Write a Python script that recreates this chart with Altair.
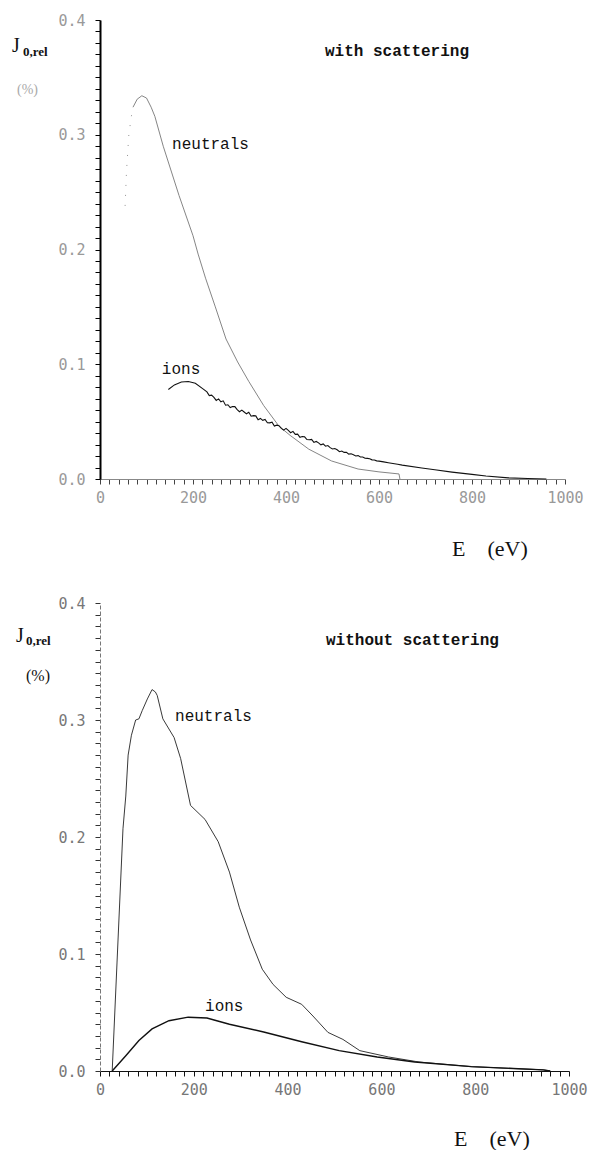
import altair as alt
import pandas as pd

# ---------------- axis ticks ----------------
x_label_values = [0, 200, 400, 600, 800, 1000]
x_minor_values = list(range(0, 1001, 20))
y_label_values = [0.0, 0.1, 0.2, 0.3, 0.4]
y_minor_values = [round(i * 0.01, 2) for i in range(41)]

# ---------------- "with scattering" ----------------
with_neutral_rise_E = [54, 57, 62, 67, 71]
with_neutral_rise_J = [0.238, 0.268, 0.300, 0.315, 0.324]

with_neutral_E = [71, 80, 90, 100, 110, 118, 136, 170, 200, 211, 227, 248, 271,
                  296, 320, 352, 385, 409, 449, 498, 555, 600, 643, 645]
with_neutral_J = [0.324, 0.331, 0.334, 0.332, 0.324, 0.316, 0.290, 0.247, 0.212,
                  0.196, 0.175, 0.150, 0.122, 0.102, 0.085, 0.064, 0.046, 0.038,
                  0.026, 0.0157, 0.0087, 0.0062, 0.0044, 0.0]

with_ion_E = [147, 160, 175, 190, 205, 220,
              230, 235, 240, 245, 250, 255, 260, 265, 270, 275, 280, 285, 290,
              295, 300, 305, 310, 315, 320, 325, 330, 335, 340, 345, 350, 355,
              360, 365, 370, 375, 380, 385, 390, 395, 400, 405, 410, 415, 420,
              425, 430, 435, 440, 445, 450, 455, 460, 465, 470, 475, 480, 485,
              490, 495, 500, 505, 510, 515, 520, 525, 530, 535, 540, 545, 550,
              555, 560, 565, 570, 575, 580, 585, 590, 595, 600,
              610, 620, 630, 640, 650, 692, 720, 757, 800, 830, 878, 920, 960]
with_ion_J = [0.078, 0.082, 0.0845, 0.085, 0.0835, 0.079,
              0.0759, 0.0727, 0.0731, 0.0712, 0.0685, 0.0698, 0.0673, 0.0681,
              0.0643, 0.0647, 0.0623, 0.0632, 0.0631, 0.0604, 0.0586, 0.0600,
              0.0584, 0.0568, 0.0581, 0.0547, 0.0552, 0.0550, 0.0516, 0.0528,
              0.0511, 0.0519, 0.0490, 0.0489, 0.0495, 0.0462, 0.0469, 0.0465,
              0.0441, 0.0426, 0.0441, 0.0423, 0.0403, 0.0415, 0.0389, 0.0391,
              0.0363, 0.0370, 0.0368, 0.0344, 0.0342, 0.0345, 0.0319, 0.0327,
              0.0315, 0.0298, 0.0306, 0.0286, 0.0292, 0.0273, 0.0262, 0.0266,
              0.0255, 0.0238, 0.0244, 0.0232, 0.0232, 0.0217, 0.0220, 0.0212,
              0.0201, 0.0204, 0.0192, 0.0192, 0.0181, 0.0180, 0.0176, 0.0167,
              0.0166, 0.0158, 0.0156,
              0.0149, 0.0142, 0.0135, 0.0128, 0.0121, 0.0096, 0.0080, 0.0060,
              0.0040, 0.0026, 0.0010, 0.0004, 0.0]

# ---------------- "without scattering" ----------------
without_neutral_E = [26, 49, 55, 60, 67, 76, 83, 90, 101, 111, 118, 122, 134, 158,
                     172, 193, 224, 252, 276, 297, 321, 346, 369, 397, 430, 454,
                     486, 518, 554, 615, 680, 792, 945, 960]
without_neutral_J = [0.0, 0.207, 0.235, 0.270, 0.287, 0.300, 0.301, 0.308, 0.318,
                     0.326, 0.324, 0.321, 0.301, 0.285, 0.267, 0.227, 0.215, 0.196,
                     0.170, 0.140, 0.112, 0.087, 0.074, 0.063, 0.057, 0.047, 0.033,
                     0.027, 0.0174, 0.012, 0.0077, 0.0037, 0.001, 0.0]

without_ion_E = [26, 55, 83, 111, 147, 188, 228, 276, 349, 430, 510, 591, 671,
                 792, 945, 960]
without_ion_J = [0.0, 0.013, 0.026, 0.036, 0.043, 0.046, 0.0453, 0.040, 0.0333,
                 0.025, 0.0174, 0.012, 0.0077, 0.0037, 0.001, 0.0]

MONO = "Liberation Mono"
SERIF = "Liberation Serif"
TICK_FONT = "DejaVu Sans Mono"

X_DOMAIN = [0, 1000]
Y_DOMAIN = [0, 0.4]

# label only the major tick values; every other tick stays unlabelled
X_LABEL_EXPR = "indexof(%s, datum.value) >= 0 ? format(datum.value, 'd') : ''" % (
    str(x_label_values))
Y_LABEL_EXPR = ("indexof(%s, round(datum.value * 100)) >= 0 ? "
                "format(datum.value, '.1f') : ''") % (
    str([int(round(v * 100)) for v in y_label_values]))


def xscale():
    return alt.Scale(domain=X_DOMAIN, nice=False, zero=False)


def yscale():
    return alt.Scale(domain=Y_DOMAIN, nice=False)


def frame(E, J):
    return pd.DataFrame({"E": E, "J": J})


def text_at(text, px, py, size, font, weight="normal", color="#111"):
    return alt.Chart(pd.DataFrame({"t": [text]})).mark_text(
        align="left", baseline="alphabetic", font=font, fontSize=size,
        fontWeight=weight, color=color,
    ).encode(text="t:N", x=alt.value(px), y=alt.value(py))


def curve_label(text, E, J):
    return alt.Chart(pd.DataFrame({"t": [text], "E": [E], "J": [J]})).mark_text(
        align="left", baseline="alphabetic", font=MONO, fontSize=16, color="#111",
    ).encode(
        text="t:N",
        x=alt.X("E:Q", axis=None, scale=xscale()),
        y=alt.Y("J:Q", axis=None, scale=yscale()),
    )


def panel(w, h, neutral, ion, neutral_style, ion_style, axis_style, extras):
    x_axis = alt.Axis(orient="bottom", values=x_minor_values, ticks=True,
                      tickSize=5, tickWidth=1, tickColor=axis_style["xtick"],
                      domainColor=axis_style["xdomain"], domainWidth=1,
                      labelExpr=X_LABEL_EXPR,
                      labelPadding=6, labelFont=TICK_FONT,
                      labelFontSize=15, labelColor=axis_style["label"],
                      labelFlush=False, labelOverlap=False,
                      grid=False, title=None)
    y_axis = alt.Axis(orient="left", values=y_minor_values, ticks=True,
                      tickSize=5, tickWidth=1, tickColor=axis_style["ytick"],
                      domainColor=axis_style["ydomain"],
                      domainWidth=axis_style["ydomain_w"],
                      domainDash=axis_style["ydash"],
                      labelExpr=Y_LABEL_EXPR,
                      labelPadding=10, labelFont=TICK_FONT,
                      labelFontSize=15, labelColor=axis_style["label"],
                      labelFlush=False, labelOverlap=False,
                      grid=False, title=None)

    neu = alt.Chart(neutral).mark_line(**neutral_style).encode(
        x=alt.X("E:Q", scale=xscale(), axis=x_axis),
        y=alt.Y("J:Q", scale=yscale(), axis=y_axis),
    )
    ions = alt.Chart(ion).mark_line(**ion_style).encode(
        x=alt.X("E:Q", scale=xscale(), axis=None),
        y=alt.Y("J:Q", scale=yscale(), axis=None),
    )
    return alt.layer(neu, ions, *extras).resolve_axis(
        x="independent", y="independent"
    ).properties(width=w, height=h)


TOP_W, TOP_H = 465, 459
BOT_W, BOT_H = 469, 468

rise = alt.Chart(frame(with_neutral_rise_E, with_neutral_rise_J)).mark_line(
    color="#888", strokeWidth=0.9, strokeDash=[1, 9]
).encode(
    x=alt.X("E:Q", axis=None, scale=xscale()),
    y=alt.Y("J:Q", axis=None, scale=yscale()),
)

top = panel(
    TOP_W, TOP_H,
    frame(with_neutral_E, with_neutral_J),
    frame(with_ion_E, with_ion_J),
    dict(color="#777", strokeWidth=0.9),
    dict(color="#111", strokeWidth=1.1),
    dict(xtick="#444", xdomain="#888", ytick="#000", ydomain="#000",
         ydomain_w=2, ydash=[1, 0], label="#999"),
    [
        rise,
        curve_label("neutrals", 155, 0.288),
        curve_label("ions", 133, 0.0915),
        text_at("with scattering", 225, 36, 16, MONO, "bold"),
        text_at("J", -88, 32, 20, SERIF),
        text_at("0,rel", -77, 36, 13, SERIF, "bold"),
        text_at("(%)", -83, 74, 14, SERIF, color="#aaa"),
        text_at("E\u2003(eV)", 352, 536, 22, SERIF),
    ],
)

bottom = panel(
    BOT_W, BOT_H,
    frame(without_neutral_E, without_neutral_J),
    frame(without_ion_E, without_ion_J),
    dict(color="#222", strokeWidth=0.9),
    dict(color="#111", strokeWidth=1.4),
    dict(xtick="#111", xdomain="#111", ytick="#333", ydomain="#777",
         ydomain_w=1, ydash=[4, 2], label="#777"),
    [
        curve_label("neutrals", 160, 0.299),
        curve_label("ions", 224, 0.0513),
        text_at("without scattering", 226, 42, 16, MONO, "bold"),
        text_at("J", -84, 39, 20, SERIF),
        text_at("0,rel", -74, 42, 13, SERIF, "bold"),
        text_at("(%)", -74, 78, 16, SERIF),
        text_at("E\u2003(eV)", 354, 543, 22, SERIF),
    ],
)

chart = alt.vconcat(top, bottom, spacing=124, bounds="flush").properties(
    padding={"left": 12, "top": 13, "right": 0, "bottom": 0},
    background="white",
).configure_view(stroke=None)

chart.save("out.html", embed_options={"renderer": "svg", "actions": False})
